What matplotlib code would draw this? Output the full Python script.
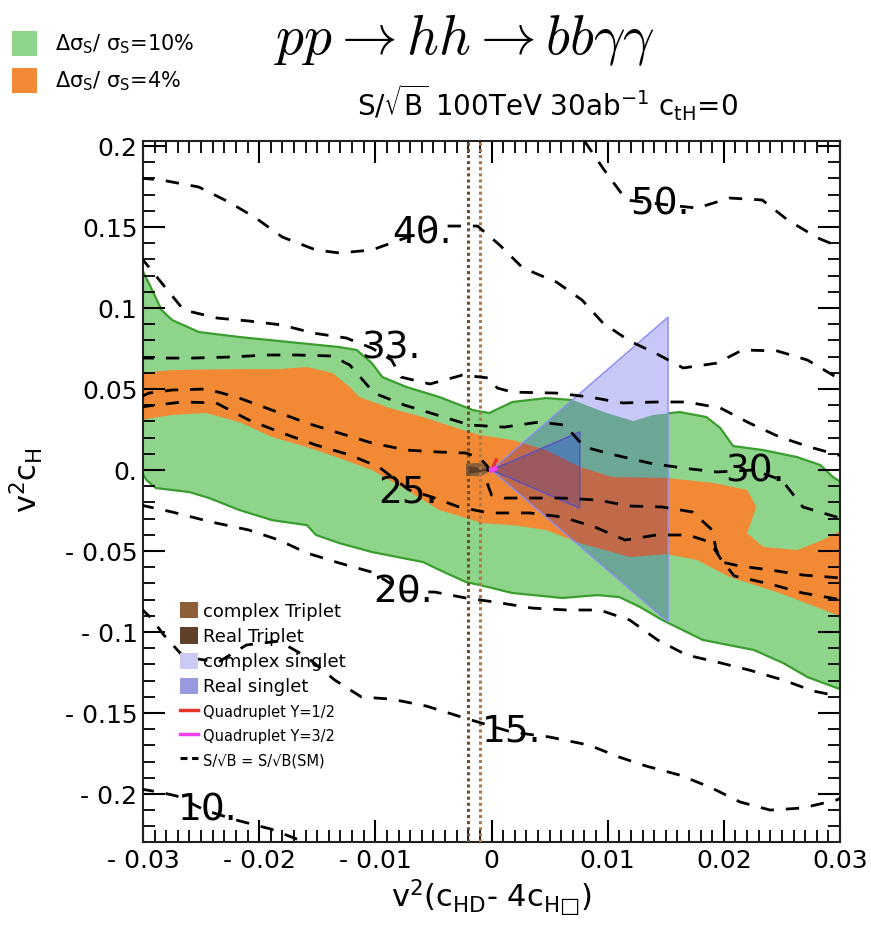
import matplotlib
matplotlib.use('Agg')
import matplotlib.pyplot as plt
from matplotlib import font_manager
from matplotlib.patches import Polygon, Patch, Rectangle
from matplotlib.lines import Line2D
from matplotlib.ticker import MultipleLocator
import numpy as np

plt.rcParams['font.family'] = ['DejaVu Sans']

# region allowed at d(sigma)/sigma = 10 %
green_top_x = [-0.0302, -0.0295, -0.0284, -0.0275, -0.0252, -0.0217, -0.0174, -0.0131, -0.0116, -0.0103,
               -0.0094, -0.0073, -0.0045, -0.0016, -0.0002, 0.0018, 0.0047, 0.0070, 0.0099, 0.0122,
               0.0139, 0.0162, 0.0185, 0.0197, 0.0208, 0.0234, 0.0263, 0.0283, 0.0294, 0.0302]
green_top_y = [0.1253, 0.1154, 0.0988, 0.0926, 0.0852, 0.0821, 0.0790, 0.0759, 0.0741, 0.0660,
               0.0574, 0.0512, 0.0451, 0.0370, 0.0352, 0.0420, 0.0444, 0.0432, 0.0352, 0.0302,
               0.0340, 0.0358, 0.0327, 0.0259, 0.0148, 0.0123, 0.0080, 0.0031, -0.0043, -0.0080]
green_bot_x = [0.0302, 0.0272, 0.0251, 0.0226, 0.0182, 0.0147, 0.0128, 0.0110, 0.0091, 0.0061,
               0.0018, -0.0010, -0.0022, -0.0039, -0.0059, -0.0103, -0.0131, -0.0151, -0.0159, -0.0189,
               -0.0217, -0.0243, -0.0260, -0.0289, -0.0297, -0.0302]
green_bot_y = [-0.1358, -0.1278, -0.1191, -0.1111, -0.1049, -0.0926, -0.0846, -0.0784, -0.0772, -0.0790,
               -0.0759, -0.0710, -0.0691, -0.0636, -0.0568, -0.0506, -0.0451, -0.0401, -0.0340, -0.0309,
               -0.0247, -0.0173, -0.0136, -0.0111, -0.0062, 0.0]

# region allowed at d(sigma)/sigma = 4 %
orange_top_x = [-0.0302, -0.0275, -0.0217, -0.0183, -0.0159, -0.0137, -0.0122, -0.0114, -0.0088, -0.0059,
                -0.0030, -0.0010, 0.0018, 0.0047, 0.0076, 0.0104, 0.0151, 0.0191, 0.0220, 0.0228,
                0.0220, 0.0234, 0.0263, 0.0285, 0.0302]
orange_top_y = [0.0599, 0.0617, 0.0623, 0.0623, 0.0636, 0.0599, 0.0512, 0.0451, 0.0383, 0.0327,
                0.0259, 0.0216, 0.0185, 0.0123, 0.0019, -0.0043, -0.0049, -0.0080, -0.0123, -0.0228,
                -0.0389, -0.0475, -0.0494, -0.0432, -0.0370]
orange_bot_x = [0.0302, 0.0248, 0.0205, 0.0177, 0.0151, 0.0119, 0.0076, 0.0047, 0.0018, -0.0010,
                -0.0016, -0.0045, -0.0073, -0.0103, -0.0131, -0.0159, -0.0189, -0.0217, -0.0246, -0.0275,
                -0.0302]
orange_bot_y = [-0.0907, -0.0759, -0.0660, -0.0556, -0.0519, -0.0537, -0.0451, -0.0370, -0.0340, -0.0327,
                -0.0309, -0.0247, -0.0123, 0.0, 0.0074, 0.0142, 0.0204, 0.0296, 0.0352, 0.0340,
                0.0309]

# S/sqrt(B) contours
c50_x = [0.0080, 0.0097, 0.0116, 0.0145, 0.0177, 0.0205, 0.0233, 0.0255, 0.0281, 0.0302]
c50_y = [0.2031, 0.1852, 0.1667, 0.1642, 0.1617, 0.1679, 0.1667, 0.1543, 0.1432, 0.1370]

c40_x = [-0.0302, -0.0284, -0.0252, -0.0226, -0.0203, -0.0180, -0.0151, -0.0131, -0.0103, -0.0079,
         -0.0045, -0.0012, 0.0007, 0.0027, 0.0056, 0.0078, 0.0096, 0.0119, 0.0141, 0.0165,
         0.0194, 0.0216, 0.0246, 0.0272, 0.0298, 0.0302]
c40_y = [0.1802, 0.1790, 0.1747, 0.1654, 0.1556, 0.1438, 0.1358, 0.1340, 0.1358, 0.1420,
         0.1506, 0.1506, 0.1389, 0.1247, 0.1160, 0.1049, 0.0907, 0.0796, 0.0722, 0.0630,
         0.0660, 0.0741, 0.0735, 0.0679, 0.0568, 0.0549]

c33_x = [-0.0302, -0.0286, -0.0265, -0.0236, -0.0209, -0.0180, -0.0154, -0.0125, -0.0103, -0.0086,
         -0.0078, -0.0053, -0.0025, -0.0002, 0.0005, 0.0018, 0.0056, 0.0084, 0.0113, 0.0142,
         0.0168, 0.0197, 0.0222, 0.0248, 0.0274, 0.0302]
c33_y = [0.1315, 0.1173, 0.0988, 0.0938, 0.0920, 0.0895, 0.0846, 0.0815, 0.0753, 0.0679,
         0.0574, 0.0531, 0.0586, 0.0568, 0.0506, 0.0481, 0.0475, 0.0451, 0.0414, 0.0420,
         0.0420, 0.0383, 0.0290, 0.0204, 0.0142, 0.0086]

c30_x = [-0.0302, -0.0284, -0.0258, -0.0223, -0.0194, -0.0168, -0.0137, -0.0122, -0.0101, -0.0075,
         -0.0047, -0.0019, 0.0011, 0.0041, 0.0063, 0.0080, 0.0106, 0.0136, 0.0165, 0.0194,
         0.0225, 0.0250, 0.0268, 0.0297, 0.0302]
c30_y = [0.0691, 0.0691, 0.0691, 0.0698, 0.0710, 0.0710, 0.0704, 0.0648, 0.0475, 0.0401,
         0.0340, 0.0278, 0.0265, 0.0296, 0.0278, 0.0142, 0.0093, 0.0043, 0.0012, -0.0012,
         0.0, -0.0062, -0.0228, -0.0290, -0.0296]

c27_x = [-0.0302, -0.0295, -0.0275, -0.0246, -0.0232, -0.0217, -0.0189, -0.0159, -0.0131, -0.0103,
         -0.0073, -0.0045, -0.0022, -0.0010, -0.0003, -0.0004, 0.0, 0.0011, 0.0033, 0.0061,
         0.0091, 0.0119, 0.0147, 0.0173, 0.0190, 0.0193, 0.0198, 0.0214, 0.0240, 0.0268, 0.0302]
c27_y = [0.0451, 0.0475, 0.0494, 0.0500, 0.0475, 0.0444, 0.0370, 0.0290, 0.0228, 0.0167,
         0.0123, 0.0111, 0.0105, 0.0074, 0.0019, -0.0074, -0.0154, -0.0173, -0.0173, -0.0173,
         -0.0185, -0.0222, -0.0228, -0.0259, -0.0370, -0.0481, -0.0568, -0.0593, -0.0617, -0.0648, -0.0667]

c25_x = [-0.0302, -0.0289, -0.0266, -0.0237, -0.0209, -0.0180, -0.0151, -0.0122, -0.0097, -0.0071,
         -0.0051, -0.0028, -0.0002, 0.0033, 0.0061, 0.0089, 0.0115, 0.0142, 0.0169, 0.0188,
         0.0198, 0.0209, 0.0240, 0.0268, 0.0302]
c25_y = [0.0389, 0.0401, 0.0420, 0.0414, 0.0309, 0.0228, 0.0154, 0.0093, 0.0019, -0.0123,
         -0.0167, -0.0228, -0.0265, -0.0265, -0.0290, -0.0352, -0.0432, -0.0401, -0.0401, -0.0444,
         -0.0556, -0.0654, -0.0704, -0.0759, -0.0802]

c20_x = [-0.0302, -0.0275, -0.0241, -0.0209, -0.0183, -0.0159, -0.0131, -0.0103, -0.0075, -0.0049,
         -0.0022, 0.0003, 0.0035, 0.0065, 0.0093, 0.0119, 0.0143, 0.0168, 0.0194, 0.0222,
         0.0251, 0.0277, 0.0302]
c20_y = [-0.0216, -0.0259, -0.0321, -0.0370, -0.0432, -0.0512, -0.0574, -0.0630, -0.0753, -0.0753,
         -0.0790, -0.0815, -0.0852, -0.0864, -0.0864, -0.0926, -0.1049, -0.1142, -0.1185, -0.1235,
         -0.1296, -0.1364, -0.1401]

c15_x = [-0.0302, -0.0293, -0.0282, -0.0265, -0.0235, -0.0211, -0.0183, -0.0159, -0.0135, -0.0112,
         -0.0086, -0.0056, -0.0023, 0.0017, 0.0050, 0.0084, 0.0110, 0.0133, 0.0162, 0.0188,
         0.0214, 0.0240, 0.0268, 0.0297, 0.0302]
c15_y = [-0.0852, -0.0914, -0.1019, -0.1154, -0.1185, -0.1080, -0.1056, -0.1154, -0.1296, -0.1401,
         -0.1414, -0.1457, -0.1531, -0.1617, -0.1648, -0.1698, -0.1772, -0.1827, -0.1883, -0.1957,
         -0.2049, -0.2099, -0.2086, -0.2037, -0.2019]

c10_x = [-0.0302, -0.0286, -0.0271, -0.0247, -0.0220, -0.0190, -0.0161]
c10_y = [-0.1969, -0.1988, -0.2012, -0.2099, -0.2160, -0.2216, -0.2296]

label_x = [0.0145, -0.0060, -0.0087, 0.0227, -0.0072, -0.0076, 0.0017, -0.0244]
label_y = [0.1642, 0.1463, 0.0753, -0.0006, -0.0142, -0.0753, -0.1611, -0.2099]
label_txt = ['50.', '40.', '33.', '30.', '25.', '20.', '15.', '10.']

# model predictions
cplx_singlet = [(0.0, 0.0), (0.0152, 0.0944), (0.0152, -0.0938)]
real_singlet = [(0.0, 0.0), (0.0076, 0.0235), (0.0076, -0.0235)]
cplx_triplet = [(0.0, 0.0), (-0.0009, 0.0045), (-0.0022, 0.0040), (-0.0022, -0.0035), (-0.0009, -0.0040)]
real_triplet = [(0.0, 0.0), (-0.0020, 0.0025), (-0.0020, -0.0025)]
quad_half_x = [0.0, 0.0004]
quad_half_y = [0.0, 0.0062]
quad_3half_x = [0.0, 0.0003]
quad_3half_y = [0.0, 0.0008]
triplet_lines = [-0.002, -0.001]

xticks = [-0.03, -0.02, -0.01, 0.0, 0.01, 0.02, 0.03]
xtick_labels = ['- 0.03', '- 0.02', '- 0.01', '0', '0.01', '0.02', '0.03']
yticks = [-0.2, -0.15, -0.1, -0.05, 0.0, 0.05, 0.1, 0.15, 0.2]
ytick_labels = ['- 0.2', '- 0.15', '- 0.1', '- 0.05', '0.', '0.05', '0.1', '0.15', '0.2']

GREEN = '#8ed48b'
ORANGE = '#f28a35'

fig = plt.figure(figsize=(8.71, 9.34), dpi=100)
ax = fig.add_axes([143 / 871, 92 / 934, 697 / 871, 701 / 934])

green = Polygon(np.column_stack([green_top_x + green_bot_x, green_top_y + green_bot_y]),
                closed=True, fc=GREEN, ec='#3a9e2e', lw=1.6, zorder=1)
orange = Polygon(np.column_stack([orange_top_x + orange_bot_x, orange_top_y + orange_bot_y]),
                 closed=True, fc=ORANGE, ec='none', zorder=1.5)
ax.add_patch(green)
ax.add_patch(orange)

# singlet wedges, shaded separately over each band
layers = [
    (cplx_singlet, '#c8c8f8', None),
    (cplx_singlet, '#6ca696', green),
    (cplx_singlet, '#c06a4a', orange),
    (real_singlet, '#5282b2', green),
    (real_singlet, '#9c5a60', orange),
]
for i, (verts, col, clip) in enumerate(layers):
    p = Polygon(verts, closed=True, fc=col, ec='none', zorder=2 + 0.1 * i)
    ax.add_patch(p)
    if clip is not None:
        p.set_clip_path(clip)
ax.add_patch(Polygon(cplx_singlet, closed=True, fill=False, ec='#8c8cf2', lw=1.0, zorder=2.6))
ax.add_patch(Polygon(real_singlet, closed=True, fill=False, ec='#5a50c0', lw=1.0, zorder=2.7))

ax.add_patch(Polygon(cplx_triplet, closed=True, fc='#8c5f38', ec='none', zorder=3))
ax.add_patch(Polygon(real_triplet, closed=True, fc='#5e4128', ec='none', zorder=3.1))

for xv, col in zip(triplet_lines, ['#6e4d2e', '#b07a48']):
    ax.axvline(xv, color=col, lw=2.2, ls=(0, (1.0, 1.0)), zorder=3.5)

dash = (0, (4.8, 4.3))
for cx, cy in [(c50_x, c50_y), (c40_x, c40_y), (c33_x, c33_y), (c30_x, c30_y), (c27_x, c27_y),
               (c25_x, c25_y), (c20_x, c20_y), (c15_x, c15_y), (c10_x, c10_y)]:
    ax.plot(cx, cy, color='black', lw=2.0, ls=dash, zorder=4)

for lx, ly, lt in zip(label_x, label_y, label_txt):
    ax.text(lx, ly, lt, fontsize=27, ha='center', va='center', zorder=5)

ax.plot(quad_half_x, quad_half_y, color='#e8352c', lw=2.5, zorder=6)
ax.plot(quad_3half_x, quad_3half_y, color='#f040f0', lw=3.5, zorder=6.1)

ax.set_xlim(-0.03, 0.03)
ax.set_ylim(-0.2296, 0.2031)
ax.set_xticks(xticks, xtick_labels)
ax.set_yticks(yticks, ytick_labels)
ax.xaxis.set_minor_locator(MultipleLocator(0.001))
ax.yaxis.set_minor_locator(MultipleLocator(0.01))
ax.tick_params(which='both', direction='in', top=True, right=True, colors='black', labelsize=18)
ax.tick_params(which='major', length=16, width=1.5)
ax.tick_params(which='minor', length=8.5, width=1.3)
ax.tick_params(axis='x', pad=5)
ax.tick_params(axis='y', pad=4)
for s in ax.spines.values():
    s.set_linewidth(1.5)
    s.set_color('#222222')

ax.set_xlabel(r'v$^\mathregular{2}$(c$_\mathregular{HD}$- 4c$_\mathregular{H□}$)', fontsize=22)
ax.xaxis.set_label_coords(0.5, -0.05)
ax.xaxis.label.set_va('top')
ax.set_ylabel(r'v$^\mathregular{2}$c$_\mathregular{H}$', fontsize=22)
ax.yaxis.set_label_coords(-0.14, 0.516)

handles = [
    Patch(fc='#8c5f38', ec='none', label='complex Triplet'),
    Patch(fc='#5e4128', ec='none', label='Real Triplet'),
    Patch(fc='#cacaf5', ec='none', label='complex singlet'),
    Patch(fc='#9999de', ec='none', label='Real singlet'),
    Line2D([], [], color='#e8352c', lw=2.5, label='Quadruplet Y=1/2'),
    Line2D([], [], color='#f040f0', lw=2.5, label='Quadruplet Y=3/2'),
    Line2D([], [], color='black', lw=2.2, ls=(0, (2.3, 1.5)), label='S/√B = S/√B(SM)'),
]
leg = ax.legend(handles=handles, loc='upper left', bbox_to_anchor=(0.053, 0.342), frameon=False,
                fontsize=13, handlelength=1.0, handleheight=1.0, handletextpad=0.3,
                labelspacing=0.38, borderpad=0, borderaxespad=0)
leg.set_zorder(10)
for t in leg.get_texts()[4:]:
    t.set_fontsize(10.5)

# band legend and titles above the frame
fig.patches.append(Rectangle((12 / 871, 1 - 56 / 934), 25 / 871, 25 / 934,
                             transform=fig.transFigure, fc=GREEN, ec='none'))
fig.patches.append(Rectangle((12 / 871, 1 - 93 / 934), 25 / 871, 25 / 934,
                             transform=fig.transFigure, fc=ORANGE, ec='none'))
fig.text(55 / 871, 1 - 44 / 934, r'Δσ$_\mathregular{S}$/ σ$_\mathregular{S}$=10%', fontsize=15, va='center')
fig.text(55 / 871, 1 - 81 / 934, r'Δσ$_\mathregular{S}$/ σ$_\mathregular{S}$=4%', fontsize=15, va='center')

fig.text(464 / 871, 1 - 40 / 934, r'$pp\rightarrow hh\rightarrow bb\gamma\gamma$', fontsize=40,
         ha='center', va='center', math_fontfamily='cm')

names = {f.name for f in font_manager.fontManager.ttflist}
if 'Liberation Sans Narrow' in names:
    sub_font, sub_size = 'Liberation Sans Narrow', 25
else:
    sub_font, sub_size = 'DejaVu Sans', 20
fig.text(548 / 871, 1 - 103 / 934,
         r'S/$\mathregular{\sqrt{B}}$ 100TeV 30ab$^\mathregular{-1}$ c$_\mathregular{tH}$=0',
         fontsize=sub_size, family=sub_font, ha='center', va='center')

fig.savefig('out.png', dpi=100)
